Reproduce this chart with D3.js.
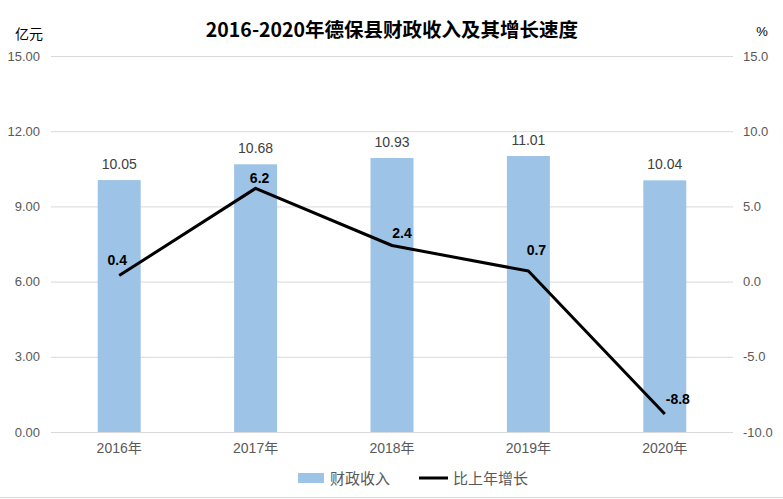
<!DOCTYPE html>
<html>
<head>
<meta charset="utf-8">
<script src="https://cdn.jsdelivr.net/npm/d3@7"></script>
<style>
  body { margin: 0; background: #fff; }
  text { font-family: "Liberation Sans", "Noto Sans CJK SC", sans-serif; }
</style>
</head>
<body>
<svg></svg>
<script>
//data
const years = ["2016年", "2017年", "2018年", "2019年", "2020年"];
const revenue = [10.05, 10.68, 10.93, 11.01, 10.04];
const growth = [0.4, 6.2, 2.4, 0.7, -8.8];
const leftTicks = [0, 3, 6, 9, 12, 15];
const rightTicks = [-10, -5, 0, 5, 10, 15];

//label nudges for the growth values (dx, dy from point)
const growthLabelOffset = [[-2, -11], [4, -5], [10, -8], [8, -16], [13, -10]];

//constants
const W = 783, H = 499;
const margin = {top: 56, right: 50, bottom: 67, left: 51};
const width = W - margin.left - margin.right;
const height = H - margin.top - margin.bottom;

const svg = d3.select("svg")
    .attr("width", W)
    .attr("height", H);

//scales
const x = d3.scaleBand()
    .domain(years)
    .range([0, width]);

const yL = d3.scaleLinear().domain([0, 15]).range([height, 0]);
const yR = d3.scaleLinear().domain([-10, 15]).range([height, 0]);

const g = svg.append("g")
    .attr("transform", "translate(" + margin.left + "," + margin.top + ")");

//grid
g.append("g")
    .selectAll("line")
    .data(leftTicks)
    .enter()
    .append("line")
    .attr("x1", 0)
    .attr("x2", width)
    .attr("y1", d => yL(d) + 0.5)
    .attr("y2", d => yL(d) + 0.5)
    .attr("stroke", "#d9d9d9")
    .attr("stroke-width", 1);

//axes (hyphen minus, like the original)
const gL = g.append("g")
    .call(d3.axisLeft(yL).tickValues(leftTicks).tickFormat(d => d.toFixed(2)).tickSize(0).tickPadding(11));
gL.select(".domain").remove();
gL.selectAll("text").attr("fill", "#595959").style("font-size", "13px");

const gR = g.append("g")
    .attr("transform", "translate(" + width + ",0)")
    .call(d3.axisRight(yR).tickValues(rightTicks).tickFormat(d => d.toFixed(1)).tickSize(0).tickPadding(10));
gR.select(".domain").remove();
gR.selectAll("text").attr("fill", "#595959").style("font-size", "13px");

const gX = g.append("g")
    .attr("transform", "translate(0," + height + ")")
    .call(d3.axisBottom(x).tickSize(0).tickPadding(11));
gX.select(".domain").remove();
gX.selectAll("text").attr("fill", "#595959").style("font-size", "14px");

//bars
const barW = x.bandwidth() * 0.315;
g.selectAll(".bar")
    .data(revenue)
    .enter()
    .append("rect")
    .attr("class", "bar")
    .attr("x", (d, i) => x(years[i]) + x.bandwidth() / 2 - barW / 2)
    .attr("y", d => yL(d))
    .attr("width", barW)
    .attr("height", d => height - yL(d))
    .attr("fill", "#9dc3e6");

g.selectAll(".barlabel")
    .data(revenue)
    .enter()
    .append("text")
    .attr("class", "barlabel")
    .attr("x", (d, i) => x(years[i]) + x.bandwidth() / 2)
    .attr("y", d => yL(d) - 11)
    .attr("text-anchor", "middle")
    .attr("fill", "#404040")
    .style("font-size", "14px")
    .text(d => d.toFixed(2));

//line
const line = d3.line()
    .x((d, i) => x(years[i]) + x.bandwidth() / 2)
    .y(d => yR(d));

g.append("path")
    .datum(growth)
    .attr("d", line)
    .attr("fill", "none")
    .attr("stroke", "#000")
    .attr("stroke-width", 3)
    .attr("stroke-linejoin", "round");

g.selectAll(".linelabel")
    .data(growth)
    .enter()
    .append("text")
    .attr("class", "linelabel")
    .attr("x", (d, i) => x(years[i]) + x.bandwidth() / 2 + growthLabelOffset[i][0])
    .attr("y", (d, i) => yR(d) + growthLabelOffset[i][1])
    .attr("text-anchor", "middle")
    .attr("fill", "#000")
    .style("font-size", "14px")
    .style("font-weight", "bold")
    .text(d => d.toFixed(1));

//title
svg.append("text")
    .attr("x", 392)
    .attr("y", 37)
    .attr("text-anchor", "middle")
    .style("font-family", "'Noto Sans CJK SC', sans-serif")
    .style("font-size", "19.5px")
    .style("font-weight", "bold")
    .text("2016-2020年德保县财政收入及其增长速度");

//axis units
svg.append("text")
    .attr("x", 29)
    .attr("y", 39)
    .attr("text-anchor", "middle")
    .style("font-size", "14px")
    .text("亿元");

svg.append("text")
    .attr("x", 762)
    .attr("y", 36)
    .attr("text-anchor", "middle")
    .style("font-size", "13px")
    .text("%");

//legend
const leg = svg.append("g").attr("transform", "translate(0,478)");
leg.append("rect")
    .attr("x", 298).attr("y", -5)
    .attr("width", 26).attr("height", 10)
    .attr("fill", "#9dc3e6");
leg.append("text")
    .attr("x", 330).attr("y", 5.5)
    .attr("fill", "#595959")
    .style("font-size", "15px")
    .text("财政收入");
leg.append("line")
    .attr("x1", 419).attr("x2", 448)
    .attr("y1", 0).attr("y2", 0)
    .attr("stroke", "#000").attr("stroke-width", 3);
leg.append("text")
    .attr("x", 453).attr("y", 5.5)
    .attr("fill", "#595959")
    .style("font-size", "15px")
    .text("比上年增长");

//chart border bottom
svg.append("line")
    .attr("x1", 0).attr("x2", W)
    .attr("y1", 497.5).attr("y2", 497.5)
    .attr("stroke", "#d9d9d9");
</script>
</body>
</html>
